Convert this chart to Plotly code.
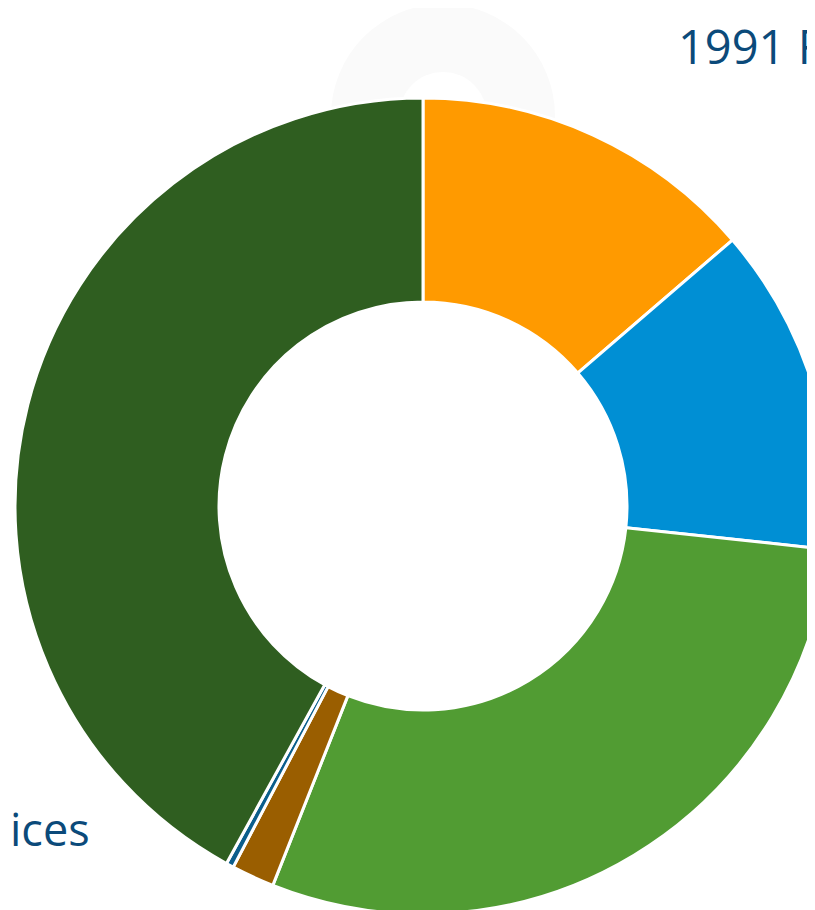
import plotly.graph_objects as go

categories = ['Orange', 'Blue', 'Light green', 'Brown', 'Dark blue', 'Dark green']
shares = [13.7, 13.0, 29.3, 1.7, 0.3, 42.0]
colors = ['#FF9A00', '#008FD4', '#519C33', '#9A5E00', '#0B5E8C', '#2F5E20']

W, H = 830, 910

fig = go.Figure()

fig.add_trace(go.Pie(labels=categories, values=shares, hole=0.5, sort=False,
                     direction='clockwise', rotation=0,
                     marker=dict(colors=colors, line=dict(color='white', width=3)),
                     textinfo='none', hoverinfo='label+percent', showlegend=False,
                     domain=dict(x=[7 / W, 823 / W], y=[4 / H, 820 / H])))

# faint watermark ring behind the chart
fig.add_shape(type='circle', xref='paper', yref='paper', layer='below',
              x0=323 / W, x1=547 / W, y0=1 - 220 / H, y1=1 + 4 / H,
              fillcolor='#FAFAFA', line=dict(width=0))
fig.add_shape(type='circle', xref='paper', yref='paper', layer='below',
              x0=391 / W, x1=479 / W, y0=1 - 152 / H, y1=1 - 64 / H,
              fillcolor='white', line=dict(width=0))

fig.add_annotation(text='1991 F', x=668 / W, y=1 - 38 / H, xref='paper', yref='paper',
                   xanchor='left', yanchor='middle', showarrow=False,
                   font=dict(family='Open Sans', size=47, color='#0B4A7A'))
fig.add_annotation(text='ices', x=0, y=1 - 820 / H, xref='paper', yref='paper',
                   xanchor='left', yanchor='middle', showarrow=False,
                   font=dict(family='Open Sans', size=45, color='#0B4A7A'))

fig.update_layout(autosize=False, width=W, height=H, showlegend=False,
                  margin=dict(l=0, r=0, t=0, b=0),
                  paper_bgcolor='white', plot_bgcolor='white')

fig.write_html("out.html")
